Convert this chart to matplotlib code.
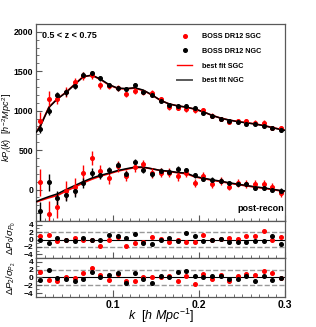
import matplotlib
matplotlib.use('Agg')
from matplotlib import pyplot as plt
from matplotlib.lines import Line2D
from matplotlib.ticker import MultipleLocator

plt.rcParams['font.family'] = ['Liberation Sans', 'DejaVu Sans']
plt.rcParams['font.weight'] = 'bold'
plt.rcParams['mathtext.fontset'] = 'custom'
plt.rcParams['mathtext.it'] = 'Liberation Sans:italic:normal'
plt.rcParams['mathtext.rm'] = 'Liberation Sans:normal'
plt.rcParams['mathtext.bf'] = 'Liberation Sans:bold'

k = [0.015, 0.025, 0.035, 0.045, 0.055, 0.065, 0.075, 0.085, 0.095, 0.105,
     0.115, 0.125, 0.135, 0.145, 0.155, 0.165, 0.175, 0.185, 0.195, 0.205,
     0.215, 0.225, 0.235, 0.245, 0.255, 0.265, 0.275, 0.285, 0.295]

# monopole kP0
p0_ngc = [772, 996, 1196, 1230, 1314, 1454, 1471, 1408, 1323, 1281,
          1276, 1319, 1238, 1192, 1128, 1077, 1056, 1065, 1034, 975,
          937, 894, 874, 856, 835, 831, 801, 780, 750]
p0_sgc = [869, 1153, 1153, 1240, 1357, 1437, 1454, 1323, 1310, 1285,
          1217, 1251, 1230, 1225, 1145, 1047, 1034, 1018, 1005, 1005,
          935, 894, 861, 864, 864, 848, 848, 780, 776]
e0_ngc = [60, 55, 45, 40, 38, 35, 32, 30, 28, 27,
          26, 25, 25, 24, 23, 22, 22, 21, 21, 20,
          20, 19, 19, 18, 18, 18, 17, 17, 17]
e0_sgc = [110, 100, 75, 65, 58, 52, 48, 45, 42, 40,
          38, 37, 36, 35, 34, 33, 32, 31, 31, 30,
          30, 29, 29, 28, 28, 28, 27, 27, 27]

# quadrupole kP2
p2_ngc = [-276, 89, -106, -68, -21, 81, 212, 187, 242, 305,
          195, 348, 250, 191, 231, 220, 258, 242, 182, 136,
          123, 114, 81, 72, 72, 17, 25, 0, -13]
p2_sgc = [93, -310, -216, -13, 38, 212, 403, 233, 140, 293,
          174, 290, 318, 212, 212, 212, 165, 208, 81, 165,
          72, 106, 38, 85, 68, 68, 68, 34, -47]
e2_ngc = [120, 110, 90, 80, 70, 62, 56, 52, 48, 45,
          43, 41, 40, 38, 37, 36, 35, 34, 33, 32,
          32, 31, 30, 30, 29, 29, 28, 28, 28]
e2_sgc = [170, 170, 150, 120, 110, 100, 90, 82, 76, 72,
          68, 65, 62, 60, 58, 56, 55, 54, 53, 52,
          51, 50, 50, 49, 49, 48, 48, 47, 47]

# best fit model values
k_fit = [0.0105] + k + [0.3]
fit0_ngc = [729, 800, 1040, 1150, 1230, 1330, 1430, 1450, 1400, 1330, 1285,
            1280, 1290, 1260, 1200, 1130, 1085, 1060, 1045, 1020, 985,
            940, 905, 880, 860, 845, 830, 810, 785, 760, 750]
fit0_sgc = [735, 810, 1045, 1150, 1235, 1335, 1432, 1448, 1395, 1325, 1282,
            1275, 1285, 1255, 1198, 1130, 1085, 1060, 1043, 1018, 983,
            940, 905, 880, 862, 847, 832, 812, 787, 762, 752]
fit2_ngc = [-153, -130, -90, -55, 0, 50, 100, 145, 180, 208, 240,
            263, 284, 284, 263, 242, 233, 216, 208, 165, 144,
            123, 106, 85, 68, 51, 34, 21, 4, -13, -18]
fit2_sgc = [-158, -140, -105, -75, -20, 30, 85, 130, 170, 200, 232,
            256, 278, 280, 262, 240, 228, 212, 200, 160, 138,
            118, 100, 80, 63, 46, 30, 16, 0, -18, -23]

# residuals
r0_ngc = [-0.1, -1.0, 0.4, -0.2, -0.5, 0.3, -0.1, -0.1, 1.1, 1.0,
          0.3, 1.4, -1.0, -1.1, -0.2, 0.4, -0.3, 1.9, 1.0, -0.5,
          -0.05, 0.05, -0.8, -0.7, -0.7, -0.3, -0.4, 1.0, -1.2]
r0_sgc = [0.97, 1.2, -0.5, -0.1, 0.5, 0.0, -0.2, -1.8, 0.0, 0.8,
          -1.7, -1.0, -0.6, 0.8, 0.2, -0.8, -0.1, -0.7, -0.7, 1.3,
          -0.05, 0.05, 0.3, 0.2, 1.0, 1.0, 2.3, 0.0, 0.7]
r2_ngc = [-0.55, 1.9, -0.1, -0.4, -0.9, -0.4, 1.4, 0.0, 0.75, 1.15,
          -1.55, 1.2, -0.4, -1.4, 0.3, 0.2, 1.45, 1.7, 0.35, 0.0,
          0.35, 0.5, -0.35, -0.35, 0.35, -1.0, 0.35, -0.6, -0.1]
r2_sgc = [1.4, -0.6, -0.9, 0.0, -0.2, 1.15, 2.35, 0.7, -0.55, 1.0,
          -0.95, -0.95, 0.2, 0.1, 0.0, 0.5, -1.0, 0.35, -1.6, 1.0,
          -0.5, 0.6, -1.0, 0.5, 0.9, 0.6, 1.55, 1.1, -0.1]

frame_col = '0.35'

fig = plt.figure(figsize=(3.16, 3.27), dpi=100)
ax = fig.add_axes([0.114, 0.324, 0.788, 0.603])
ax_r0 = fig.add_axes([0.114, 0.211, 0.788, 0.113], sharex=ax)
ax_r2 = fig.add_axes([0.114, 0.092, 0.788, 0.119], sharex=ax)

# main panel
ax.plot(k_fit, fit0_sgc, color='red', lw=1.2, zorder=2)
ax.plot(k_fit, fit2_sgc, color='red', lw=1.2, zorder=2)
ax.plot(k_fit, fit0_ngc, color='black', lw=1.1, zorder=3)
ax.plot(k_fit, fit2_ngc, color='black', lw=1.1, zorder=3)
for y, e, c in [(p0_sgc, e0_sgc, 'red'), (p2_sgc, e2_sgc, 'red'),
                (p0_ngc, e0_ngc, 'black'), (p2_ngc, e2_ngc, 'black')]:
    ax.errorbar(k, y, yerr=e, fmt='o', color=c, ms=2.6, elinewidth=1.0,
                capsize=0, zorder=4)

ax.set_xlim(0.01, 0.3)
ax.set_ylim(-400, 2100)
ax.yaxis.set_minor_locator(MultipleLocator(100))
ax.set_yticks([0, 500, 1000, 1500, 2000])
ax.tick_params(axis='x', labelbottom=False)

ax.text(0.025, 0.965, '0.5 < z < 0.75', transform=ax.transAxes,
        fontsize=6.5, fontweight='bold', va='top', ha='left')
ax.text(0.995, 0.04, 'post-recon', transform=ax.transAxes,
        fontsize=6.5, fontweight='bold', va='bottom', ha='right')

handles = [Line2D([], [], ls='none', marker='o', color='red', ms=2.6),
           Line2D([], [], ls='none', marker='o', color='black', ms=2.6),
           Line2D([], [], color='red', lw=1.0),
           Line2D([], [], color='0.35', lw=1.4)]
labels = ['BOSS DR12 SGC', 'BOSS DR12 NGC', 'best fit SGC', 'best fit NGC']
leg = ax.legend(handles, labels, loc='upper right', bbox_to_anchor=(0.93, 0.985),
                frameon=False, fontsize=5.2, handlelength=2.2,
                labelspacing=1.05, handletextpad=1.3)
for t in leg.get_texts():
    t.set_fontweight('bold')

# residual panels
for a, rn, rs in [(ax_r0, r0_ngc, r0_sgc), (ax_r2, r2_ngc, r2_sgc)]:
    a.axhline(0, color='black', lw=0.8, zorder=1)
    a.axhline(2, color='0.6', lw=1.0, ls='--', zorder=1)
    a.axhline(-2, color='0.6', lw=1.0, ls='--', zorder=1)
    a.plot(k, rs, 'o', color='red', ms=2.6, zorder=3)
    a.plot(k, rn, 'o', color='black', ms=2.6, zorder=3)
    a.set_ylim(-5, 5)
    a.set_yticks([-4, -2, 0, 2, 4])
    a.yaxis.set_minor_locator(MultipleLocator(1))
ax_r0.tick_params(axis='x', labelbottom=False)

ax_r2.xaxis.set_minor_locator(MultipleLocator(0.01))
ax_r2.set_xticks([0.1, 0.2, 0.3])
ax_r2.set_xticklabels(['0.1', '0.2', '0.3'])

for a in [ax, ax_r0, ax_r2]:
    for s in a.spines.values():
        s.set_color(frame_col)
        s.set_linewidth(0.9)
    a.tick_params(which='both', direction='in', top=False, right=False,
                  color=frame_col, labelsize=6.3, pad=2)
    a.tick_params(which='major', length=4)
    a.tick_params(which='minor', length=2)
    for lbl in a.get_yticklabels() + a.get_xticklabels():
        lbl.set_fontweight('bold')
for a in [ax_r0, ax_r2]:
    a.tick_params(axis='y', labelsize=6)
ax_r2.tick_params(axis='x', labelsize=7.5, pad=2)
ax_r2.tick_params(axis='x', which='major', length=5)

fig.text(0.024, 1 - 127 / 327, r'$kP_{l}(k)\ \ [h^{-2}Mpc^{2}]$',
         rotation=90, fontsize=6.6, ha='center', va='center')
fig.text(0.035, 0.21, r'$\Delta P_2/\sigma_{P_2}\ \ \ \Delta P_0/\sigma_{P_0}$',
         rotation=90, fontsize=6.8, ha='center', va='center')
fig.text(0.51, 1 - 316 / 327, r'$k\ \ [h\ Mpc^{-1}]$', fontsize=9,
         ha='center', va='center')

fig.savefig('out.png', dpi=100)
